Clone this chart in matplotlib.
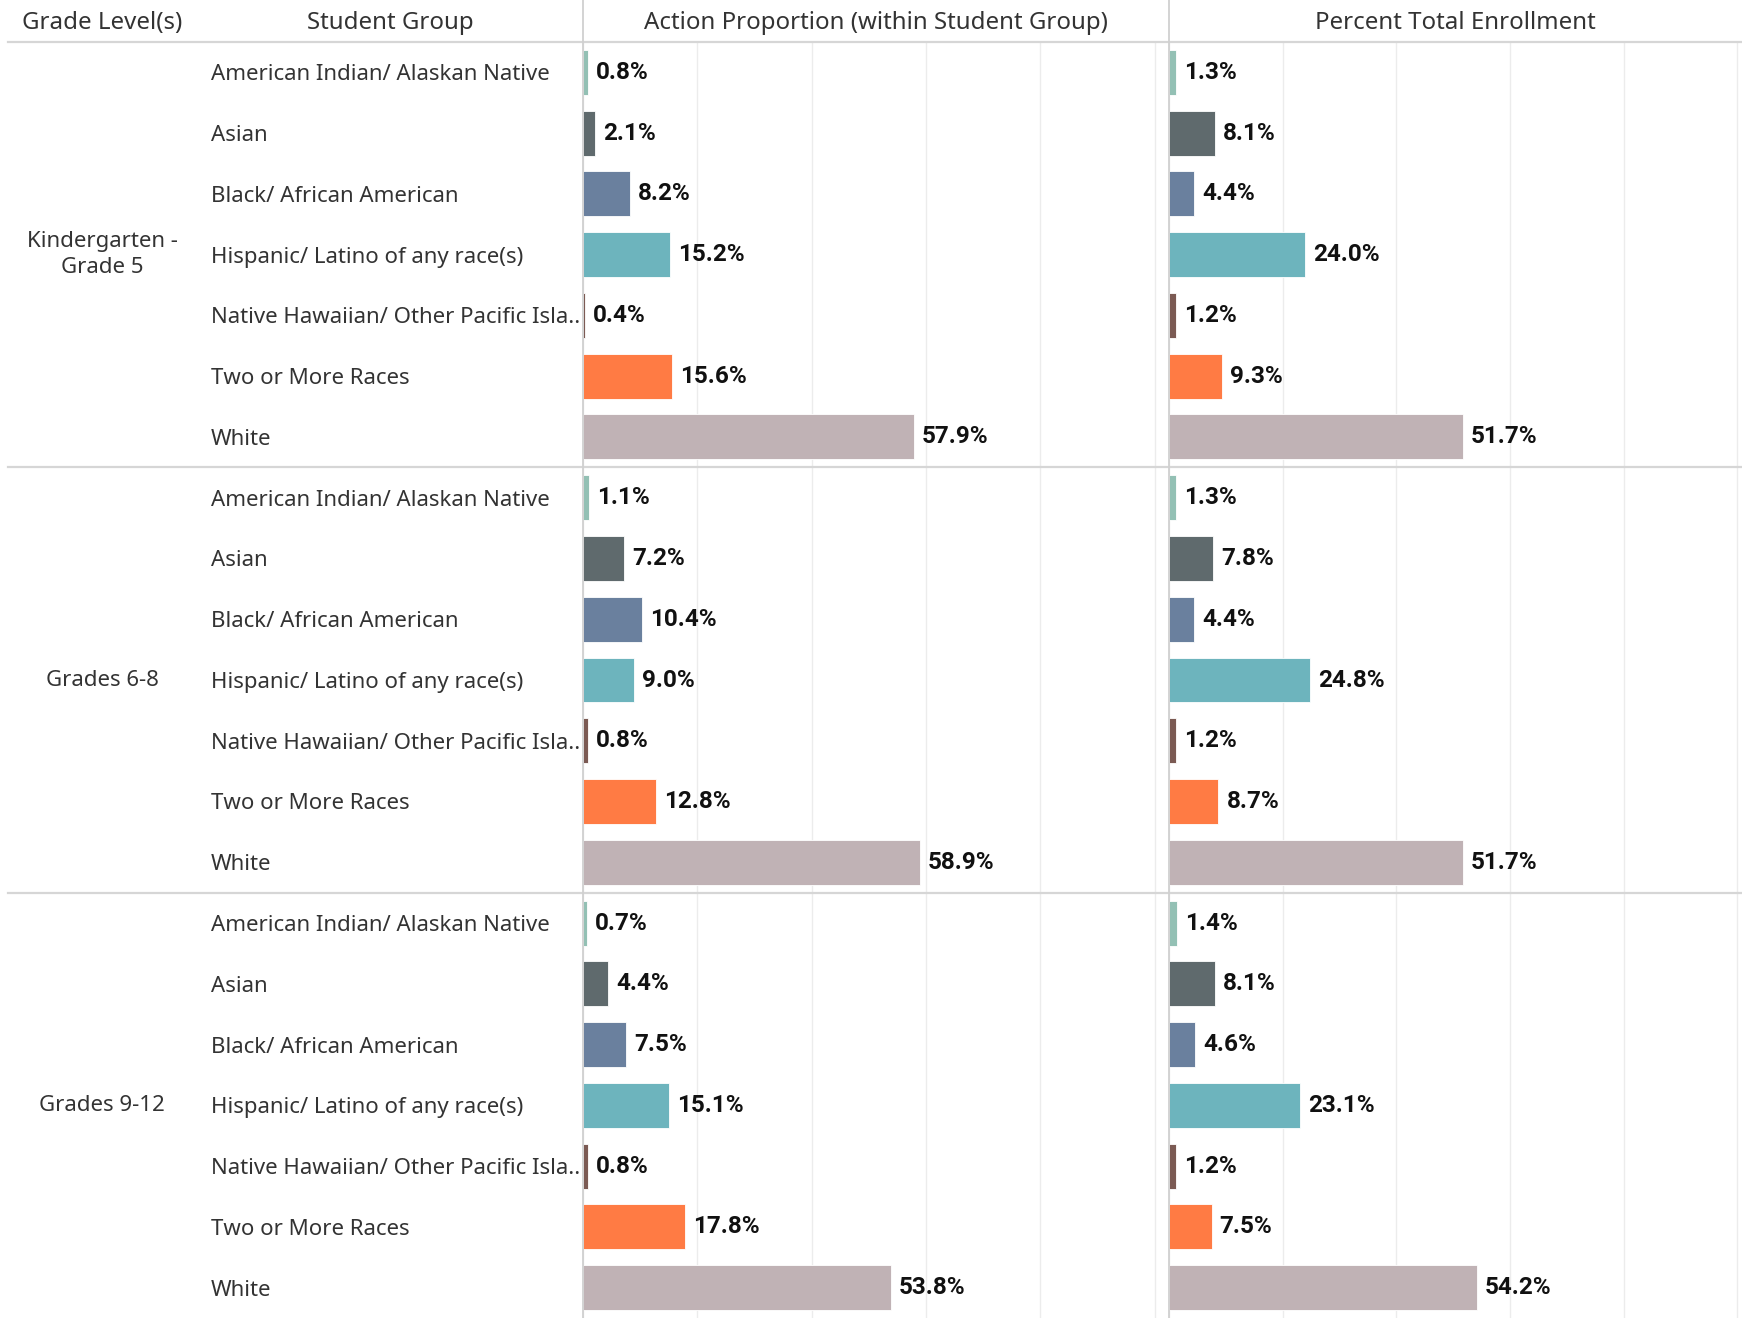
import numpy as np
import matplotlib.pyplot as plt
from matplotlib.lines import Line2D

plt.rcParams['font.family'] = ['Noto Sans', 'DejaVu Sans']

grades = ['Kindergarten -\nGrade 5', 'Grades 6-8', 'Grades 9-12']
groups = ['American Indian/ Alaskan Native', 'Asian', 'Black/ African American',
          'Hispanic/ Latino of any race(s)', 'Native Hawaiian/ Other Pacific Isla..',
          'Two or More Races', 'White']
colors = ['#93c0b4', '#5f6a6d', '#6a809e', '#6db4bd', '#7b5a53', '#ff7b44', '#c0b2b5']

action_k5 = [0.8, 2.1, 8.2, 15.2, 0.4, 15.6, 57.9]
action_68 = [1.1, 7.2, 10.4, 9.0, 0.8, 12.8, 58.9]
action_912 = [0.7, 4.4, 7.5, 15.1, 0.8, 17.8, 53.8]
enroll_k5 = [1.3, 8.1, 4.4, 24.0, 1.2, 9.3, 51.7]
enroll_68 = [1.3, 7.8, 4.4, 24.8, 1.2, 8.7, 51.7]
enroll_912 = [1.4, 8.1, 4.6, 23.1, 1.2, 7.5, 54.2]

headers = ['Grade Level(s)', 'Student Group', 'Action Proportion (within Student Group)',
           'Percent Total Enrollment']

W, H = 1742, 1318
head_h = 42
p1_left, p2_left = 583, 1169

fig = plt.figure(figsize=(W / 100, H / 100), dpi=100)

# background axes in pixel units for header text
bg = fig.add_axes([0, 0, 1, 1])
bg.set_xlim(0, W)
bg.set_ylim(H, 0)
bg.axis('off')

n_rows = len(grades) * len(groups)
body_h = (H - head_h) / H

action = np.concatenate([action_k5, action_68, action_912])
enroll = np.concatenate([enroll_k5, enroll_68, enroll_912])
bar_colors = colors * len(grades)
ypos = np.arange(n_rows)

lab = fig.add_axes([0, 0, p1_left / W, body_h])
lab.set_xlim(0, p1_left)
lab.set_ylim(n_rows - 0.5, -0.5)
lab.axis('off')

for gi, g in enumerate(grades):
    lab.text(102, gi * len(groups) + 3, g, ha='center', va='center',
             fontsize=16, color='#333333', linespacing=1.3)
    for si, s in enumerate(groups):
        lab.text(211, gi * len(groups) + si + 0.04, s, ha='left', va='center',
                 fontsize=16, color='#333333')

panels = [(p1_left, p2_left - p1_left, action, 102.5),
          (p2_left, W - p2_left, enroll, 100.8)]
for left, width, vals, xmax in panels:
    ax = fig.add_axes([left / W, 0, width / W, body_h])
    ax.barh(ypos, vals, height=0.74, color=bar_colors,
            edgecolor='white', linewidth=0.6)
    for y, v in zip(ypos, vals):
        ax.text(v + 1.4, y, f'{v:.1f}%', ha='left', va='center',
                fontsize=17.5, fontweight='bold', color='#111111',
                family=['Roboto', 'DejaVu Sans'])
    ax.set_xlim(0, xmax)
    ax.set_ylim(n_rows - 0.5, -0.5)
    ax.set_xticks(np.arange(0, 101, 20))
    ax.grid(axis='x', color='#ececec', linewidth=1)
    ax.set_axisbelow(True)
    ax.tick_params(left=False, bottom=False, labelleft=False, labelbottom=False)
    for sp in ax.spines.values():
        sp.set_visible(False)

# header texts
hx = [102, 390, (p1_left + p2_left) / 2, (p2_left + W) / 2]
for x, t in zip(hx, headers):
    bg.text(x, 23, t, ha='center', va='center', fontsize=17.3, color='#333333')

# separators
row_h = (H - head_h) / n_rows
for k in range(len(grades)):
    y = head_h + k * len(groups) * row_h
    fig.add_artist(Line2D([8 / W, 1], [1 - y / H, 1 - y / H], color='#d6d6d6', lw=1.6))
for x in (p1_left, p2_left):
    fig.add_artist(Line2D([x / W, x / W], [0, 1], color='#d0d0d0', lw=1.3))

fig.savefig('out.png', dpi=100)
